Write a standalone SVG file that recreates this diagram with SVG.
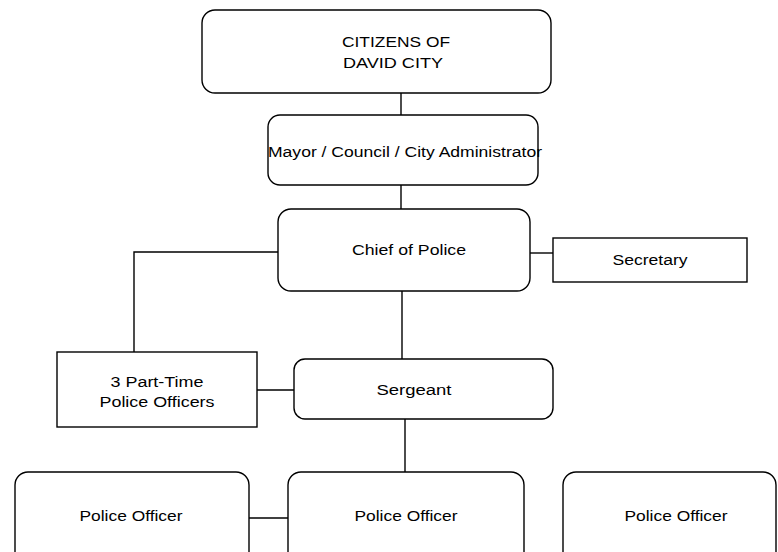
<svg xmlns="http://www.w3.org/2000/svg" width="778" height="552" viewBox="0 0 778 552">
<style>
.box{fill:#fff;stroke:#000;stroke-width:1.4}
.ln{fill:none;stroke:#000;stroke-width:1.4}
text{font-family:"Liberation Sans",Arial,sans-serif;font-size:14px;fill:#000;text-anchor:middle}
</style>
<rect width="778" height="552" fill="#fff"/>
<g id="connectors">
<line class="ln" x1="401" y1="93" x2="401" y2="115"/>
<line class="ln" x1="401" y1="185" x2="401" y2="209"/>
<polyline class="ln" points="278,252 134,252 134,352"/>
<line class="ln" x1="530" y1="253" x2="553" y2="253"/>
<line class="ln" x1="402" y1="291" x2="402" y2="359"/>
<line class="ln" x1="257" y1="390" x2="294" y2="390"/>
<line class="ln" x1="405" y1="419" x2="405" y2="472"/>
<line class="ln" x1="249" y1="518" x2="288" y2="518"/>
</g>
<g id="citizens">
<rect class="box" x="202" y="10" width="349" height="83" rx="13"/>
<text x="396" y="47" textLength="108" lengthAdjust="spacingAndGlyphs">CITIZENS OF</text>
<text x="393" y="68" textLength="100" lengthAdjust="spacingAndGlyphs">DAVID CITY</text>
</g>
<g id="mayor">
<rect class="box" x="268" y="115" width="270" height="70" rx="12"/>
<text x="405" y="157" textLength="274" lengthAdjust="spacingAndGlyphs">Mayor / Council / City Administrator</text>
</g>
<g id="chief">
<rect class="box" x="278" y="209" width="252" height="82" rx="13"/>
<text x="409" y="255" textLength="114" lengthAdjust="spacingAndGlyphs">Chief of Police</text>
</g>
<g id="secretary">
<rect class="box" x="553" y="238" width="194" height="44"/>
<text x="650" y="265" textLength="75" lengthAdjust="spacingAndGlyphs">Secretary</text>
</g>
<g id="parttime">
<rect class="box" x="57" y="352" width="200" height="75"/>
<text x="157" y="387" textLength="93" lengthAdjust="spacingAndGlyphs">3 Part-Time</text>
<text x="157" y="407" textLength="115" lengthAdjust="spacingAndGlyphs">Police Officers</text>
</g>
<g id="sergeant">
<rect class="box" x="294" y="359" width="259" height="60" rx="11"/>
<text x="414" y="395" textLength="75" lengthAdjust="spacingAndGlyphs">Sergeant</text>
</g>
<g id="officer1">
<rect class="box" x="15" y="472" width="234" height="100" rx="13"/>
<text x="131" y="521" textLength="103" lengthAdjust="spacingAndGlyphs">Police Officer</text>
</g>
<g id="officer2">
<rect class="box" x="288" y="472" width="236" height="100" rx="13"/>
<text x="406" y="521" textLength="103" lengthAdjust="spacingAndGlyphs">Police Officer</text>
</g>
<g id="officer3">
<rect class="box" x="563" y="472" width="213" height="100" rx="13"/>
<text x="676" y="521" textLength="103" lengthAdjust="spacingAndGlyphs">Police Officer</text>
</g>
</svg>
